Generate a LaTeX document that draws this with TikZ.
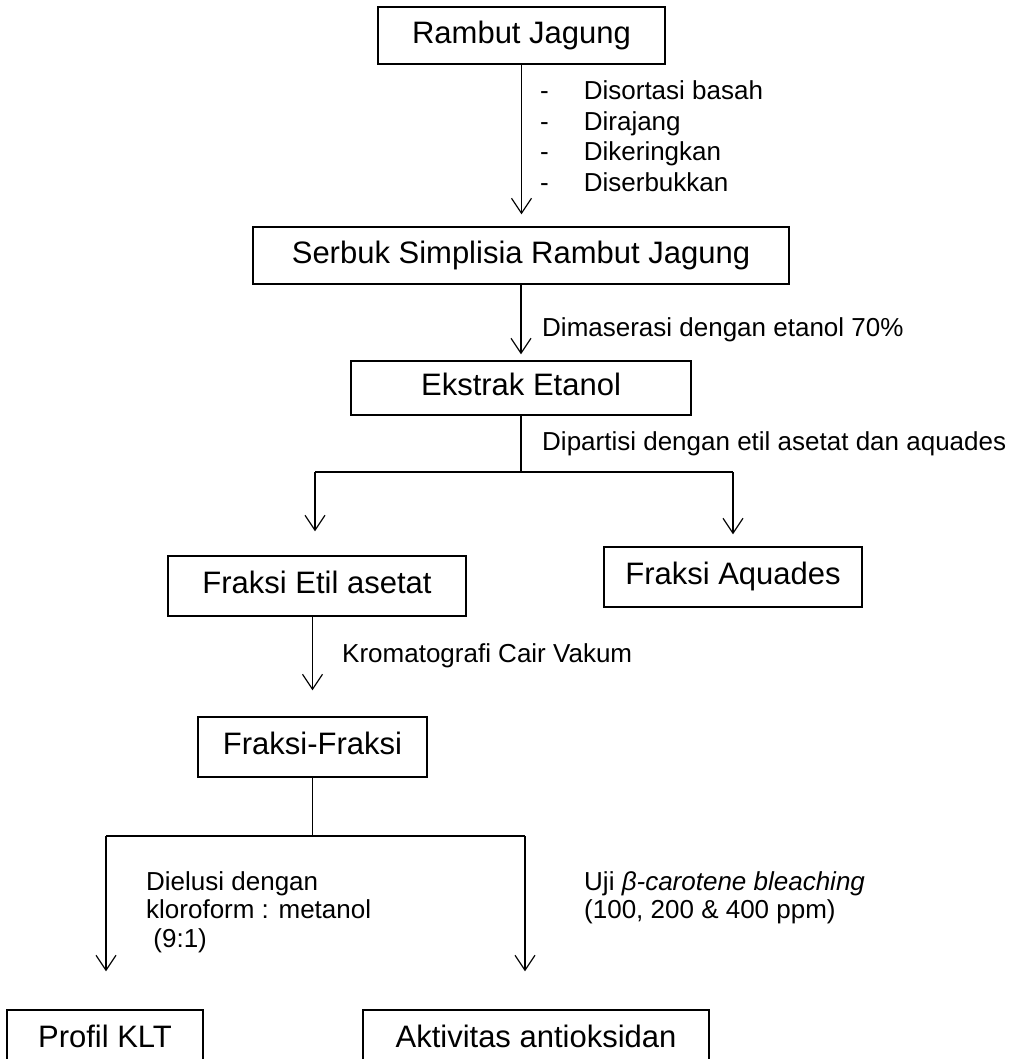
\documentclass[tikz,border=0pt]{standalone}
\usepackage{fontspec}
\setmainfont{Liberation Sans}
\usetikzlibrary{arrows.meta}
\begin{document}
\begin{tikzpicture}[x=1pt,y=-1pt,
  box/.style={draw, line width=1.3pt, inner sep=0pt, font=\fontsize{31}{37}\selectfont, text height=22.3pt, text depth=6.5pt},
  lbl/.style={inner sep=0pt, font=\fontsize{26}{30.6}\selectfont, anchor=base west},
  conn/.style={line width=1.2pt},
  arr/.style={conn, -{Straight Barb[length=15pt,width=20pt]}}
]
\useasboundingbox (0,0) rectangle (1025,1059);
\clip (0,0) rectangle (1025,1059);
\fill[white] (0,0) rectangle (1025,1059);

% boxes
\node[box, minimum width=287pt, minimum height=57pt] (rj) at (521.5,35.5) {Rambut Jagung};
\node[box, minimum width=536pt, minimum height=57pt] (ss) at (521,255.5) {Serbuk Simplisia Rambut Jagung};
\node[box, minimum width=340pt, minimum height=54pt] (ee) at (521,388) {Ekstrak Etanol};
\node[box, minimum width=298pt, minimum height=60pt] (fe) at (317,586) {Fraksi Etil asetat};
\node[box, minimum width=258pt, minimum height=60pt] (fa) at (733,577) {Fraksi Aquades};
\node[box, minimum width=229pt, minimum height=60pt] (ff) at (312.5,747) {Fraksi-Fraksi};
\node[box, minimum width=196pt, minimum height=60pt] (pk) at (105,1040) {Profil KLT};
\node[box, minimum width=346pt, minimum height=60pt] (aa) at (536,1040) {Aktivitas antioksidan};

% connectors
\draw[arr, shorten >=12pt] (rj.south) -- (rj.south |- ss.north);
\draw[arr, shorten >=6pt] (ss.south) -- (ss.south |- ee.north);

\coordinate (j1l) at (315,472);
\coordinate (j1r) at (733,472);
\draw[conn] (ee.south) -- (ee.south |- j1l);
\draw[conn] (j1l) -- (j1r);
\draw[arr, shorten >=24pt] (j1l) -- (j1l |- fe.north);
\draw[arr, shorten >=12pt] (j1r) -- (j1r |- fa.north);

\draw[arr, shorten >=26pt] (ff.north |- fe.south) -- (ff.north);

\coordinate (j2l) at (106,836);
\coordinate (j2r) at (525,836);
\draw[conn] (ff.south) -- (ff.south |- j2l);
\draw[conn] (j2l) -- (j2r);
\draw[arr, shorten >=38pt] (j2l) -- (j2l |- pk.north);
\draw[arr, shorten >=38pt] (j2r) -- (j2r |- aa.north);

% labels
\node[lbl] (l1) at (540,99.5) {\begin{tabular}[t]{@{}l@{\hspace{35pt}}l@{}}-&Disortasi basah\\-&Dirajang\\-&Dikeringkan\\-&Diserbukkan\end{tabular}};
\node[lbl] (l2) at (542,336) {Dimaserasi dengan etanol 70\%};
\node[lbl] (l3) at (542,450) {Dipartisi dengan etil asetat dan aquades};
\node[lbl] (l4) at (342,662) {Kromatografi Cair Vakum};
\node[lbl, font=\fontsize{26}{28.5}\selectfont] (l5) at (146,890) {\begin{tabular}[t]{@{}l@{}}Dielusi dengan\\kloroform : metanol\\\ (9:1)\end{tabular}};
\node[lbl, font=\fontsize{26}{28.5}\selectfont] (l6) at (584,890) {\begin{tabular}[t]{@{}l@{}}Uji \textit{β-carotene bleaching}\\(100, 200 \& 400 ppm)\end{tabular}};
\end{tikzpicture}
\end{document}
